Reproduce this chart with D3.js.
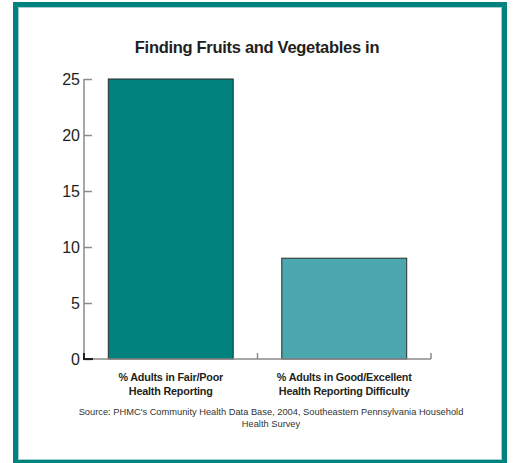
<!DOCTYPE html>
<html lang="en">
<head>
    <meta charset="UTF-8">
    <title>Finding Fruits and Vegetables</title>
    <style>
        body { margin: 0; background: #fff; }
        text { font-family: 'Liberation Sans', Arial, sans-serif; fill: #231f20; }
        .axis path, .axis line { stroke: #8a8a8a; stroke-width: 1.5px; }
        .bar { stroke: #2b2b2b; stroke-width: 1px; }
    </style>
</head>
<body>
<script src="https://d3js.org/d3.v7.min.js"></script>
<script>

    const width = 513;
    const height = 463;

    const categories = [
        ['% Adults in Fair/Poor', 'Health Reporting'],
        ['% Adults in Good/Excellent', 'Health Reporting Difficulty']
    ];
    const values = [25, 9];
    const barColours = ['#00827f', '#4aa8ae'];
    const yTicks = [0, 5, 10, 15, 20, 25];
    const title = 'Finding Fruits and Vegetables in';
    const source = [
        "Source: PHMC's Community Health Data Base, 2004, Southeastern Pennsylvania Household",
        'Health Survey'
    ];

    const plot = {'left': 84, 'right': 431, 'top': 79, 'bottom': 359};

    let svg = d3.select('body').append('svg')
        .attr('width', width)
        .attr('height', height);

    // teal frame
    svg.append('rect')
        .attr('x', 15.5)
        .attr('y', 4.5)
        .attr('width', 489)
        .attr('height', 458)
        .style('fill', 'none')
        .style('stroke', '#00827f')
        .style('stroke-width', 5);

    svg.append('rect')
        .attr('x', 18.5)
        .attr('y', 7.5)
        .attr('width', 483)
        .attr('height', 452)
        .style('fill', 'none')
        .style('stroke', '#9fd0cf')
        .style('stroke-width', 1);

    svg.append('text')
        .attr('x', 257)
        .attr('y', 53)
        .attr('text-anchor', 'middle')
        .style('font-size', '16.5px')
        .style('font-weight', 'bold')
        .style('letter-spacing', '-0.3px')
        .text(title);

    let x = d3.scaleBand()
        .domain(d3.range(values.length))
        .range([plot.left, plot.right])
        .paddingInner(0.28)
        .paddingOuter(0.14);

    let y = d3.scaleLinear()
        .domain([0, 25])
        .range([plot.bottom, plot.top]);

    // bars
    svg.selectAll('.bar')
        .data(values)
        .enter().append('rect')
        .classed('bar', true)
        .attr('x', function(d, i) { return x(i); })
        .attr('y', function(d) { return y(d); })
        .attr('width', x.bandwidth())
        .attr('height', function(d) { return y(0) - y(d); })
        .style('fill', function(d, i) { return barColours[i]; });

    // y axis, ticks pointing inward
    let yAxis = svg.append('g')
        .classed('axis', true)
        .attr('transform', 'translate(' + plot.left + ',0)')
        .call(d3.axisRight(y).tickValues(yTicks).tickSize(8).tickSizeOuter(0));
    yAxis.select('.domain').remove();
    yAxis.append('line')
        .attr('x1', 0).attr('x2', 0)
        .attr('y1', plot.top).attr('y2', plot.bottom);
    yAxis.selectAll('text')
        .attr('x', -4)
        .attr('dy', '0.36em')
        .attr('text-anchor', 'end')
        .style('font-size', '16px')
        .style('fill', '#231f20');

    // x axis baseline with separator ticks
    let xAxis = svg.append('g')
        .classed('axis', true);
    xAxis.append('line')
        .attr('x1', plot.left).attr('x2', plot.right)
        .attr('y1', plot.bottom).attr('y2', plot.bottom);
    let bounds = [x.step() + plot.left, plot.right];
    xAxis.selectAll('.sep')
        .data(bounds)
        .enter().append('line')
        .attr('x1', function(d) { return d; })
        .attr('x2', function(d) { return d; })
        .attr('y1', plot.bottom)
        .attr('y2', plot.bottom - 6);
    // dark corner at origin
    svg.append('path')
        .attr('d', 'M' + plot.left + ',' + (plot.bottom - 6) + 'V' + plot.bottom + 'H' + (plot.left + 9))
        .style('fill', 'none')
        .style('stroke', '#231f20')
        .style('stroke-width', 2);

    // category labels
    categories.forEach(function(lines, i) {
        let t = svg.append('text')
            .attr('x', x(i) + x.bandwidth() / 2)
            .attr('y', 381)
            .attr('text-anchor', 'middle')
            .style('font-size', '10.8px')
            .style('font-weight', 'bold')
            .style('letter-spacing', '-0.2px');
        lines.forEach(function(l, j) {
            t.append('tspan')
                .attr('x', x(i) + x.bandwidth() / 2)
                .attr('dy', j === 0 ? 0 : 14)
                .text(l);
        });
    });

    // source note
    source.forEach(function(l, j) {
        svg.append('text')
            .attr('x', 271)
            .attr('y', 415 + j * 12)
            .attr('text-anchor', 'middle')
            .style('font-size', '9.3px')
            .style('fill', '#333')
            .text(l);
    });

</script>
</body>
</html>
